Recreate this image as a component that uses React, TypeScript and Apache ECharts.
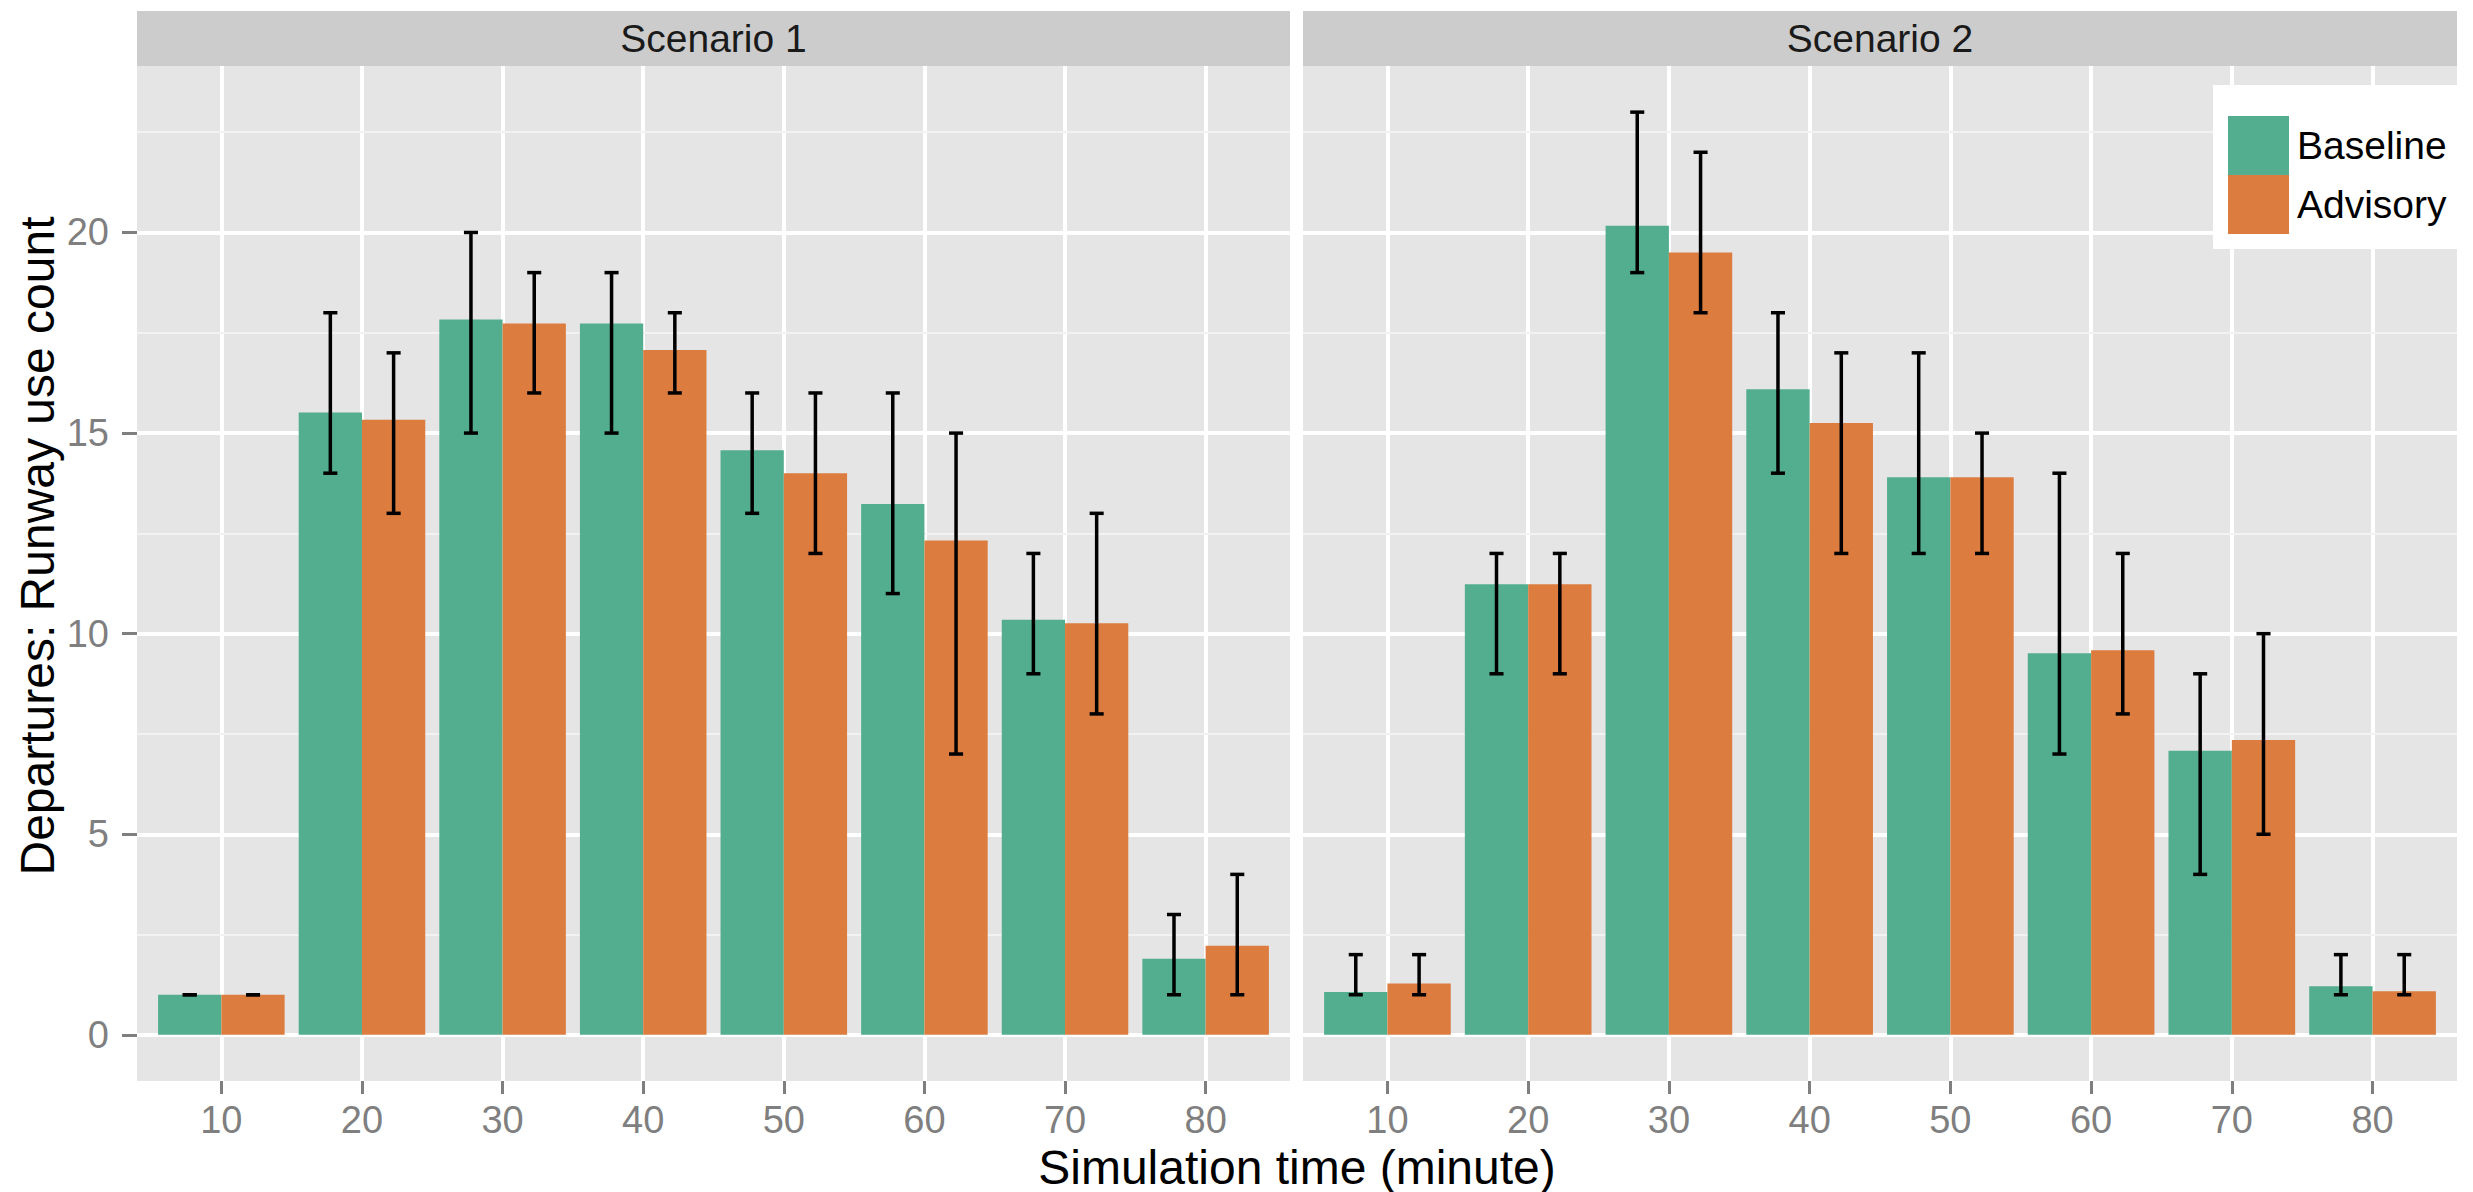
import React, { useEffect, useRef } from 'react';
import * as echarts from 'echarts';

// ---- data ----
const times = [10, 20, 30, 40, 50, 60, 70, 80];
const scenarios = ['Scenario 1', 'Scenario 2'];
const groups = ['Baseline', 'Advisory'];

const s1Baseline = [1.0, 15.51, 17.83, 17.73, 14.57, 13.23, 10.35, 1.9];
const s1BaselineLo = [1, 14, 15, 15, 13, 11, 9, 1];
const s1BaselineHi = [1, 18, 20, 19, 16, 16, 12, 3];
const s1Advisory = [1.0, 15.33, 17.73, 17.07, 14.0, 12.32, 10.26, 2.22];
const s1AdvisoryLo = [1, 13, 16, 16, 12, 7, 8, 1];
const s1AdvisoryHi = [1, 17, 19, 18, 16, 15, 13, 4];

const s2Baseline = [1.07, 11.23, 20.17, 16.09, 13.9, 9.51, 7.08, 1.21];
const s2BaselineLo = [1, 9, 19, 14, 12, 7, 4, 1];
const s2BaselineHi = [2, 12, 23, 18, 17, 14, 9, 2];
const s2Advisory = [1.28, 11.23, 19.5, 15.25, 13.9, 9.59, 7.35, 1.09];
const s2AdvisoryLo = [1, 9, 18, 12, 12, 8, 5, 1];
const s2AdvisoryHi = [2, 12, 22, 17, 15, 12, 10, 2];

const yTicks = [0, 5, 10, 15, 20];
const yMinorTicks = [2.5, 7.5, 12.5, 17.5, 22.5];

// ---- styling / layout ----
const FONT = '"Liberation Sans", Arial, Helvetica, sans-serif';
const GREEN = '#52AE8F';
const ORANGE = '#DC7C3F';
const PANEL_BG = '#E5E5E5';
const STRIP_BG = '#CCCCCC';
const GREY = '#7F7F7F';
const panels = [
  { left: 137, width: 1153 },
  { left: 1303, width: 1154 },
];
const PLOT_TOP = 66;
const PLOT_H = 1015;
const STRIP_TOP = 11;
const STRIP_H = 55;
const X_MIN = 4;
const X_MAX = 86;
const Y_MIN = -1.15;
const Y_MAX = 24.15;
const BAR_W = 4.5; // half of the 0.9 dodge width, in minutes
const CAP = 0.5;

const seriesData = [
  [
    { vals: s1Baseline, lo: s1BaselineLo, hi: s1BaselineHi },
    { vals: s1Advisory, lo: s1AdvisoryLo, hi: s1AdvisoryHi },
  ],
  [
    { vals: s2Baseline, lo: s2BaselineLo, hi: s2BaselineHi },
    { vals: s2Advisory, lo: s2AdvisoryLo, hi: s2AdvisoryHi },
  ],
];

function buildOption() {
  const colors = [GREEN, ORANGE];
  const offsets = [-BAR_W, 0];
  const grid = panels.map((p) => ({
    left: p.left,
    top: PLOT_TOP,
    width: p.width,
    height: PLOT_H,
    show: true,
    backgroundColor: PANEL_BG,
    borderWidth: 0,
    containLabel: false,
  }));

  const xAxis = panels.map((_, i) => ({
    type: 'value',
    gridIndex: i,
    position: 'bottom',
    min: X_MIN,
    max: X_MAX,
    axisLine: { show: false, onZero: false },
    axisTick: {
      show: true,
      customValues: times,
      length: 13,
      lineStyle: { color: GREY, width: 3 },
    },
    axisLabel: {
      show: true,
      customValues: times,
      color: GREY,
      fontSize: 38,
      fontFamily: FONT,
      margin: 20,
    },
    splitLine: { show: true, lineStyle: { color: '#FFFFFF', width: 4 } },
  }));

  const yAxis: any[] = [];
  panels.forEach((_, i) => {
    yAxis.push({
      type: 'value',
      gridIndex: i,
      position: 'left',
      min: Y_MIN,
      max: Y_MAX,
      axisLine: { show: false, onZero: false },
      axisTick: {
        show: i === 0,
        customValues: yTicks,
        length: 15,
        lineStyle: { color: GREY, width: 3 },
      },
      axisLabel: {
        show: i === 0,
        customValues: yTicks,
        color: GREY,
        fontSize: 38,
        fontFamily: FONT,
        margin: 28,
      },
      splitLine: { show: true, lineStyle: { color: '#FFFFFF', width: 4 } },
      z: 2,
    });
    yAxis.push({
      type: 'value',
      gridIndex: i,
      position: 'left',
      min: Y_MIN,
      max: Y_MAX,
      axisLine: { show: false, onZero: false },
      axisTick: { show: false, customValues: yMinorTicks },
      axisLabel: { show: false, customValues: yMinorTicks },
      splitLine: { show: true, lineStyle: { color: '#F2F2F2', width: 2 } },
      z: 1,
    });
  });

  const series: any[] = [];
  seriesData.forEach((panelSeries, pi) => {
    panelSeries.forEach((s, gi) => {
      const offset = offsets[gi];
      const color = colors[gi];
      series.push({
        type: 'custom',
        name: groups[gi],
        xAxisIndex: pi,
        yAxisIndex: pi * 2,
        itemStyle: { color },
        z: 3,
        data: times.map((t, k) => [t, s.vals[k]]),
        renderItem: (_params: any, api: any) => {
          const x = api.value(0);
          const v = api.value(1);
          const a = api.coord([x + offset, v]);
          const b = api.coord([x + offset + BAR_W, 0]);
          return {
            type: 'rect',
            shape: { x: a[0], y: a[1], width: b[0] - a[0], height: b[1] - a[1] },
            style: { fill: color },
          };
        },
      });
    });
    panelSeries.forEach((s, gi) => {
      const center = offsets[gi] + BAR_W / 2;
      series.push({
        type: 'custom',
        name: groups[gi] + ' range',
        xAxisIndex: pi,
        yAxisIndex: pi * 2,
        z: 4,
        data: times.map((t, k) => [t, s.lo[k], s.hi[k]]),
        renderItem: (_params: any, api: any) => {
          const x = api.value(0) + center;
          const lo = api.value(1);
          const hi = api.coord([x, api.value(2)]);
          const bot = api.coord([x, lo]);
          const l = api.coord([x - CAP, lo])[0];
          const r = api.coord([x + CAP, lo])[0];
          const st = { stroke: '#000000', lineWidth: 3.5 };
          return {
            type: 'group',
            children: [
              { type: 'line', shape: { x1: hi[0], y1: hi[1], x2: bot[0], y2: bot[1] }, style: st },
              { type: 'line', shape: { x1: l, y1: hi[1], x2: r, y2: hi[1] }, style: st },
              { type: 'line', shape: { x1: l, y1: bot[1], x2: r, y2: bot[1] }, style: st },
            ],
          };
        },
      });
    });
  });

  const graphic: any[] = [];
  panels.forEach((p, i) => {
    graphic.push({
      type: 'rect',
      shape: { x: p.left, y: STRIP_TOP, width: p.width, height: STRIP_H },
      style: { fill: STRIP_BG },
    });
    graphic.push({
      type: 'text',
      x: p.left + p.width / 2,
      y: STRIP_TOP + STRIP_H / 2,
      style: {
        text: scenarios[i],
        fill: '#1A1A1A',
        fontSize: 39,
        fontFamily: FONT,
        align: 'center',
        verticalAlign: 'middle',
      },
    });
  });
  const plotCenterX = (panels[0].left + panels[1].left + panels[1].width) / 2;
  graphic.push({
    type: 'text',
    x: plotCenterX,
    y: 1167,
    style: {
      text: 'Simulation time (minute)',
      fill: '#000000',
      fontSize: 48,
      fontFamily: FONT,
      align: 'center',
      verticalAlign: 'middle',
    },
  });
  graphic.push({
    type: 'text',
    x: 37,
    y: (STRIP_TOP + PLOT_TOP + PLOT_H) / 2,
    rotation: Math.PI / 2,
    style: {
      text: 'Departures: Runway use count',
      fill: '#000000',
      fontSize: 48,
      fontFamily: FONT,
      align: 'center',
      verticalAlign: 'middle',
    },
  });

  return {
    animation: false,
    backgroundColor: '#FFFFFF',
    textStyle: { fontFamily: FONT },
    grid,
    xAxis,
    yAxis,
    legend: {
      data: groups,
      orient: 'vertical',
      left: 2213,
      top: 85,
      padding: [31, 12, 15, 15],
      itemWidth: 61,
      itemHeight: 59,
      itemGap: 0,
      icon: 'rect',
      backgroundColor: '#FFFFFF',
      selectedMode: false,
      textStyle: { fontSize: 39, color: '#000000', fontFamily: FONT, padding: [0, 0, 0, 3] },
      z: 10,
    },
    series,
    graphic,
  };
}

export default function App() {
  const ref = useRef<HTMLDivElement>(null);
  useEffect(() => {
    if (!ref.current) return;
    const chart = echarts.init(ref.current, undefined, { renderer: 'svg' });
    chart.setOption(buildOption() as any);
    return () => chart.dispose();
  }, []);
  return (
    <div
      ref={ref}
      style={{ position: 'absolute', left: 0, top: 0, width: 2473, height: 1192 }}
    />
  );
}
